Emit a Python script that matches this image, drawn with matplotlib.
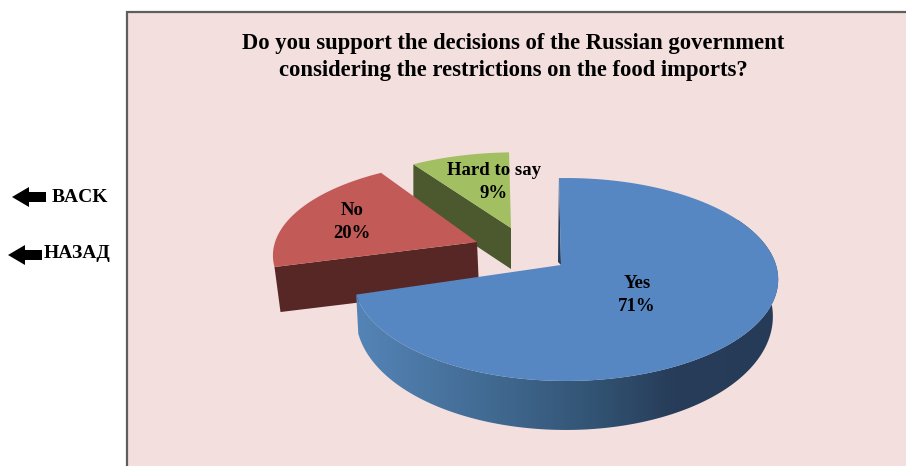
import numpy as np
import matplotlib
matplotlib.use('Agg')
import matplotlib.pyplot as plt
from matplotlib.colors import LinearSegmentedColormap
from matplotlib.patches import Polygon, Rectangle

title = 'Do you support the decisions of the Russian government\nconsidering the restrictions on the food imports?'
labels = ['Yes', 'No', 'Hard to say']
values = [71, 20, 9]
top_colors = ['#5687C2', '#C25A57', '#A2BF62']
side_colors = ['#263B57', '#572726', '#4C582D']

plt.rcParams['font.family'] = ['Liberation Serif', 'DejaVu Serif']

fig = plt.figure(figsize=(9.06, 4.66), dpi=100)
ax = fig.add_axes([0, 0, 1, 1])
ax.set_xlim(0, 906)
ax.set_ylim(466, 0)
ax.axis('off')

# chart area, only left and top border show
ax.add_patch(Rectangle((127, 12), 800, 470, fc='#F3DFDE', ec='#5E5E5E', lw=1.6, zorder=0))

A, B, k = 210.0, 99.4, 1 / 7


def rim(theta, apex, sx=1.0, sy=1.0):
    # perspective circle, theta in degrees clockwise from the back of the pie
    u = np.sin(np.radians(theta))
    v = np.cos(np.radians(theta))
    den = 1 + k * v
    return apex[0] + sx * (5 + A * u / den), apex[1] - sy * B * v / den, v


angles = -2.2 + np.concatenate([[0], np.cumsum(values)]) * 3.6

# green slice: wall first, red covers part of it
apex_g = (511, 228)
t = np.linspace(angles[2], angles[3], 40)
x, y, _ = rim(t, apex_g, 0.96, 0.87)
ax.add_patch(Polygon([(x[0], y[0]), apex_g, (apex_g[0], apex_g[1] + 41), (x[0], y[0] + 40)],
                     fc=side_colors[2], ec='none', zorder=2))
ax.add_patch(Polygon(np.r_[[apex_g], np.c_[x, y]], fc=top_colors[2], ec='none', zorder=3))

# red slice
apex_r = (477, 242)
t = np.linspace(angles[1], angles[2], 60) + 1.5
x, y, _ = rim(t, apex_r, 0.985, 0.93)
ax.add_patch(Polygon([(x[0], y[0]), apex_r, (apex_r[0] + 2, apex_r[1] + 46), (x[0] + 6, y[0] + 45)],
                     fc=side_colors[1], ec='none', zorder=4))
ax.add_patch(Polygon(np.r_[[apex_r], np.c_[x, y]], fc=top_colors[1], ec='none', zorder=5))

# blue slice, wall with a horizontal gradient
apex_b = (561, 265)
t = np.linspace(angles[0], angles[1], 240)
x, y, v = rim(t, apex_b)
front = (t > 60)
xf, yf, vf = x[front], y[front], v[front]
xb = 566 + (xf - 566) * np.where(xf < 566, 0.99, 0.975)
yb = yf + 35 - 14 * vf
wall = Polygon(np.r_[np.c_[xf, yf], np.c_[xb, yb][::-1]], fc='none', ec='none', zorder=6)
ax.add_patch(wall)
cmap = LinearSegmentedColormap.from_list('side', [(0, '#5585B8'), (0.35, '#40688F'), (0.6, '#30506F'),
                                                  (0.75, '#273D59'), (1, '#263B57')])
grad = ax.imshow(np.linspace(0, 1, 256)[None, :], extent=(350, 780, 466, 0), cmap=cmap,
                 aspect='auto', zorder=6)
grad.set_clip_path(wall)
ax.set_xlim(0, 906)
ax.set_ylim(466, 0)
ax.add_patch(Polygon([(x[0], y[0]), apex_b, (apex_b[0] - 3, apex_b[1] - 3)], fc=side_colors[0], ec='none', zorder=6))
ax.add_patch(Polygon(np.r_[[apex_b], np.c_[x, y]], fc=top_colors[0], ec='none', zorder=7))

# slice labels
label_pos = [(637, 295), (352, 222), (494, 182)]
for name, val, (lx, ly) in zip(labels, values, label_pos):
    ax.text(lx, ly, '%s\n%d%%' % (name, val), ha='center', va='center', fontsize=13.5,
            fontweight='bold', color='black', linespacing=1.42, zorder=9)

ax.text(513, 57, title, ha='center', va='center', fontsize=16.3, fontweight='bold',
        color='black', linespacing=1.34, zorder=9)


def back_arrow(tip, cy):
    pts = [(tip, cy), (tip + 17, cy - 10), (tip + 17, cy - 5), (tip + 34, cy - 5),
           (tip + 34, cy + 5), (tip + 17, cy + 5), (tip + 17, cy + 10)]
    ax.add_patch(Polygon(pts, fc='black', ec='none', zorder=9))


back_arrow(12, 197)
back_arrow(8, 255)
ax.text(80, 197, 'BACK', ha='center', va='center', fontsize=14, fontweight='bold', color='black')
ax.text(77, 254, 'НАЗАД', ha='center', va='center', fontsize=14, fontweight='bold', color='black')

fig.savefig('out.png', dpi=100)
